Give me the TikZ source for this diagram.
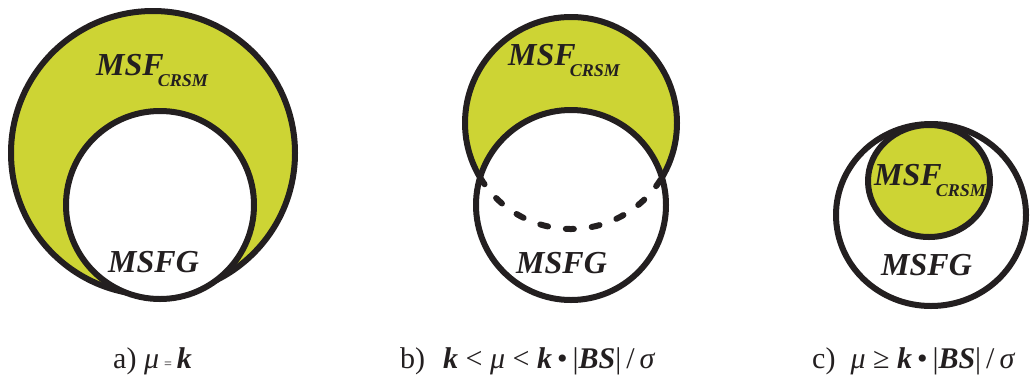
\documentclass[tikz,border=0pt]{standalone}
\usepackage{fontspec}
\setmainfont{Liberation Serif}
\usepackage{tikz}
\definecolor{ink}{RGB}{35,31,32}
\definecolor{setfill}{RGB}{205,212,52}
\newcommand{\msfcrsm}{MSF\kern-6pt\raisebox{-0.36em}{\fontsize{18}{18}\selectfont CRSM}}
\newcommand{\bk}{\textbf{\textit{k}}}
\newcommand{\gap}{\hspace{0.25em}}

\begin{document}
\begin{tikzpicture}[line cap=round,line join=round,x=1pt,y=1pt,
  ring/.style={line width=6pt,color=ink},
  setname/.style={inner sep=0pt,anchor=base west,font=\fontsize{32}{32}\selectfont\bfseries\itshape,text=ink},
  caption/.style={inner sep=0pt,anchor=base west,font=\fontsize{30}{30}\selectfont,text=ink}]
\useasboundingbox (0,0) rectangle (1035,-389);
% a) mu = k
\draw [ring,fill=setfill] (153,-153) circle (142);
\draw [ring,fill=white] (160,-205) circle (94);
\node [setname] (crsmA) at (96,-75) {\msfcrsm};
\node [setname] (msfgA) at (108,-272) {MSFG};
\node [caption] (capA) at (113,-368) {a) \textit{μ}\,{\fontsize{14}{14}\selectfont =}\,\bk};
% b) k < mu < k|BS|/sigma
\draw [ring,fill=setfill] (571,-123) circle (106);
\draw [ring,fill=white] (571,-205) circle (95);
\draw [ring,dash pattern=on 8pt off 18pt] (571,-123) ++(211:106) arc (211:329:106);
\node [setname] (crsmB) at (508,-65) {\msfcrsm};
\node [setname] (msfgB) at (516,-273) {MSFG};
\node [caption] (capB) at (400,-368) {b)\hspace{0.6em}\bk\gap<\gap\textit{μ}\gap<\gap\bk\,•\,|\textbf{\textit{BS}}|\,/\,\textit{σ}};
% c) mu >= k|BS|/sigma
\draw [ring,fill=white] (931,-215) ellipse (95 and 91);
\draw [ring,fill=setfill] (929,-181) ellipse (61 and 56);
\node [setname] (crsmC) at (874,-185) {\msfcrsm};
\node [setname] (msfgC) at (881,-275) {MSFG};
\node [caption] (capC) at (812,-368) {c)\hspace{0.5em}\textit{μ}\gap≥\gap\bk\,•\,|\textbf{\textit{BS}}|\,/\,\textit{σ}};
\end{tikzpicture}
\end{document}
